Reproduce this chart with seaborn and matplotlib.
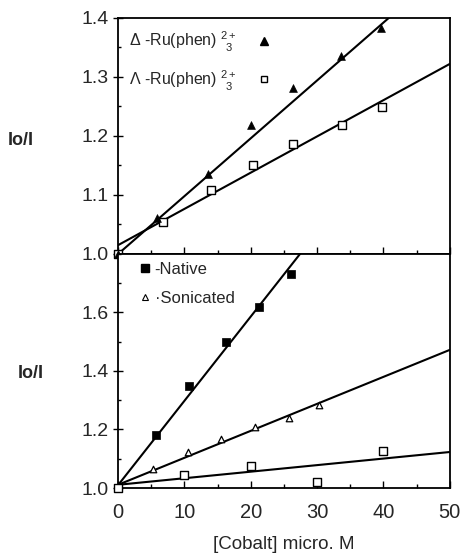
import numpy as np
import matplotlib
matplotlib.use("Agg")
import matplotlib.pyplot as plt
import seaborn as sns
from matplotlib.ticker import MultipleLocator

sns.set_style("ticks")
plt.rcParams['font.family'] = ['Liberation Sans', 'DejaVu Sans']
plt.rcParams['mathtext.fontset'] = 'custom'
plt.rcParams['mathtext.rm'] = 'Liberation Sans'
plt.rcParams['mathtext.it'] = 'Liberation Sans:italic'

# top panel: enantiomers of Ru(phen)3 2+
delta_x = [0, 5.9, 13.6, 20.0, 26.4, 33.6, 39.7]
delta_y = [1.0, 1.061, 1.136, 1.218, 1.281, 1.336, 1.383]
lambda_x = [0, 6.7, 14.0, 20.4, 26.4, 33.7, 39.8]
lambda_y = [1.0, 1.055, 1.108, 1.151, 1.187, 1.219, 1.249]

# bottom panel: native / sonicated and a third set
native_x = [5.7, 10.7, 16.2, 21.2, 26.0]
native_y = [1.180, 1.347, 1.499, 1.619, 1.731]
sonic_x = [5.3, 10.5, 15.5, 20.7, 25.7, 30.3]
sonic_y = [1.066, 1.123, 1.167, 1.208, 1.241, 1.284]
open_x = [0, 10.0, 20.1, 30.0, 40.0]
open_y = [1.0, 1.045, 1.074, 1.020, 1.125]

# fitted lines, read at x = 0 and x = 50
fit_x = [0, 50]
delta_fit = [1.0, 1.49]
lambda_fit = [1.015, 1.322]
native_fit = [1.01, 2.45]
sonic_fit = [1.011, 1.472]
open_fit = [1.011, 1.123]

fig = plt.figure(figsize=(4.65, 5.56), dpi=100)
ax1 = fig.add_axes([0.254, 0.5432, 0.713, 0.4245])
ax2 = fig.add_axes([0.254, 0.1223, 0.713, 0.4209])

lw = 1.5
for ax in (ax1, ax2):
    for sp in ax.spines.values():
        sp.set_linewidth(1.3)
        sp.set_color('black')
    ax.set_xlim(0, 50)
    ax.xaxis.set_major_locator(MultipleLocator(10))
    ax.xaxis.set_minor_locator(MultipleLocator(5))
    ax.tick_params(which='both', direction='in', color='black', width=1.0)
    ax.tick_params(axis='x', which='major', length=5)
    ax.tick_params(axis='x', which='minor', length=3)
    ax.tick_params(axis='y', which='major', direction='inout', length=7)
    ax.tick_params(axis='y', which='minor', length=2.5)
    ax.tick_params(axis='y', labelsize=14, pad=3)
    ax.set_facecolor('white')

# top panel
sns.lineplot(x=fit_x, y=delta_fit, ax=ax1, color='black', lw=lw)
sns.lineplot(x=fit_x, y=lambda_fit, ax=ax1, color='black', lw=lw)
sns.scatterplot(x=lambda_x, y=lambda_y, ax=ax1, marker='s', s=26,
                facecolor='white', edgecolor='black', linewidth=1.0,
                clip_on=False, zorder=3)
sns.scatterplot(x=delta_x, y=delta_y, ax=ax1, marker='^', s=32,
                color='black', edgecolor='black', clip_on=False, zorder=4)
ax1.set_ylim(1.0, 1.4)
ax1.yaxis.set_minor_locator(MultipleLocator(0.05))
ax1.set_yticks([1.0, 1.1, 1.2, 1.3, 1.4])
ax1.set_yticklabels(['1.0', '1.1', '1.2', '1.3', '1.4'])
ax1.tick_params(axis='x', labelbottom=False)
ax1.set_ylabel('Io/I', rotation=0, fontsize=13, fontweight='bold',
               ha='center', va='center')
ax1.yaxis.set_label_coords(-0.293, 0.479)

h1 = plt.Line2D([], [], ls='none', marker='^', ms=5.5, color='black')
h2 = plt.Line2D([], [], ls='none', marker='s', ms=5, mfc='white',
                mec='black', mew=1.0)
ax1.legend([h1, h2],
           [r'Δ -Ru(phen) $\genfrac{}{}{0}{1}{2+}{3}$',
            r'Λ -Ru(phen) $\genfrac{}{}{0}{1}{2+}{3}$'],
           loc='upper left', bbox_to_anchor=(0.033, 0.951), frameon=False,
           markerfirst=False, fontsize=11.5, handlelength=0.8,
           handletextpad=1.3, labelspacing=0.85, borderaxespad=0,
           borderpad=0)

# bottom panel
sns.lineplot(x=fit_x, y=native_fit, ax=ax2, color='black', lw=lw)
sns.lineplot(x=fit_x, y=sonic_fit, ax=ax2, color='black', lw=lw)
sns.lineplot(x=fit_x, y=open_fit, ax=ax2, color='black', lw=lw)
sns.scatterplot(x=native_x, y=native_y, ax=ax2, marker='s', s=40,
                color='black', edgecolor='black', clip_on=False, zorder=4)
sns.scatterplot(x=sonic_x, y=sonic_y, ax=ax2, marker='^', s=22,
                facecolor='white', edgecolor='black', linewidth=0.9,
                clip_on=False, zorder=4)
sns.scatterplot(x=open_x, y=open_y, ax=ax2, marker='s', s=26,
                facecolor='white', edgecolor='black', linewidth=1.0,
                clip_on=False, zorder=4)
ax2.set_ylim(1.0, 1.8)
ax2.yaxis.set_minor_locator(MultipleLocator(0.1))
ax2.set_yticks([1.0, 1.2, 1.4, 1.6])
ax2.set_yticklabels(['1.0', '1.2', '1.4', '1.6'])
ax2.set_xticks([0, 10, 20, 30, 40, 50])
ax2.tick_params(axis='x', labelsize=14.5, pad=11)
ax2.set_ylabel('Io/I', rotation=0, fontsize=13, fontweight='bold',
               ha='center', va='center')
ax2.yaxis.set_label_coords(-0.265, 0.491)
ax2.set_xlabel('[Cobalt] micro. M', fontsize=13.5, va='center')
ax2.xaxis.set_label_coords(0.5, -0.24)

h3 = plt.Line2D([], [], ls='none', marker='s', ms=6, color='black')
h4 = plt.Line2D([], [], ls='none', marker='^', ms=4, mfc='white',
                mec='black', mew=0.8)
ax2.legend([h3, h4], ['-Native', '·Sonicated'], loc='upper left',
           frameon=False, fontsize=12, handlelength=0.6,
           handletextpad=0.3, labelspacing=0.83, borderaxespad=0,
           borderpad=0, bbox_to_anchor=(0.065, 0.966))

fig.savefig('out.png', dpi=100, facecolor='white')
